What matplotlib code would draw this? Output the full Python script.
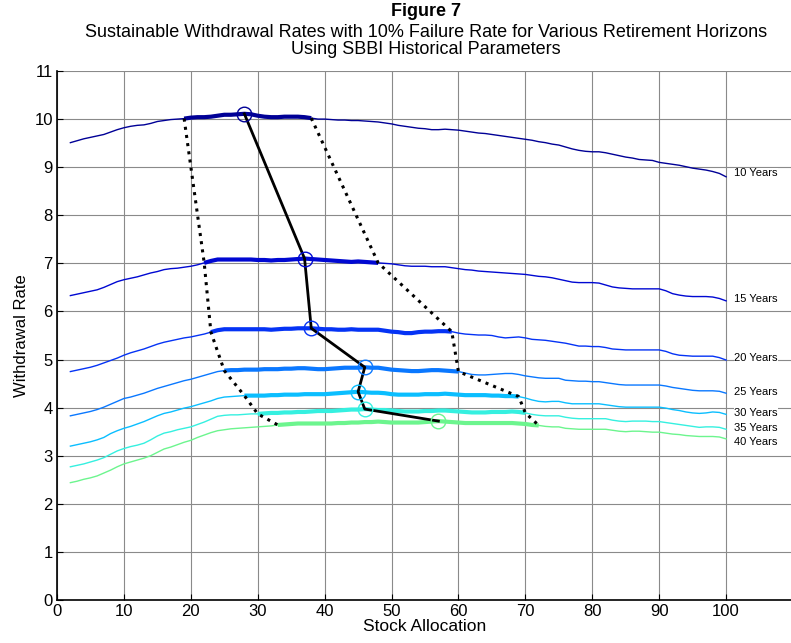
import numpy as np
import matplotlib
matplotlib.use("Agg")
import matplotlib.pyplot as plt

plt.rcParams['font.family'] = ['Liberation Sans', 'DejaVu Sans']

# ---------------- data ----------------
stock_alloc = list(range(2, 101))  # percent stocks

horizons = ["10 Years", "15 Years", "20 Years", "25 Years", "30 Years", "35 Years", "40 Years"]

wr_10 = [9.51, 9.55, 9.59, 9.62, 9.65, 9.68, 9.73, 9.78, 9.82, 9.85,
         9.87, 9.88, 9.91, 9.95, 9.97, 9.99, 10.00, 10.01, 10.03, 10.04,
         10.04, 10.05, 10.07, 10.09, 10.09, 10.10, 10.11, 10.10, 10.07, 10.05,
         10.04, 10.04, 10.05, 10.05, 10.05, 10.04, 10.02, 10.00, 10.00, 9.99,
         9.98, 9.98, 9.97, 9.97, 9.96, 9.95, 9.94, 9.92, 9.90, 9.87,
         9.85, 9.83, 9.81, 9.80, 9.78, 9.78, 9.79, 9.78, 9.77, 9.75,
         9.73, 9.71, 9.70, 9.68, 9.66, 9.64, 9.62, 9.60, 9.58, 9.56,
         9.53, 9.51, 9.48, 9.46, 9.42, 9.38, 9.35, 9.33, 9.32, 9.32,
         9.30, 9.27, 9.24, 9.21, 9.19, 9.16, 9.15, 9.14, 9.10, 9.08,
         9.06, 9.04, 9.01, 8.98, 8.96, 8.94, 8.91, 8.87, 8.80]

wr_15 = [6.33, 6.36, 6.39, 6.42, 6.45, 6.50, 6.56, 6.62, 6.66, 6.69,
         6.72, 6.76, 6.80, 6.83, 6.87, 6.89, 6.90, 6.92, 6.94, 6.97,
         7.01, 7.05, 7.08, 7.08, 7.08, 7.08, 7.08, 7.08, 7.07, 7.07,
         7.06, 7.07, 7.07, 7.08, 7.09, 7.10, 7.09, 7.08, 7.07, 7.06,
         7.05, 7.04, 7.03, 7.04, 7.03, 7.02, 7.01, 7.00, 6.99, 6.97,
         6.95, 6.94, 6.94, 6.94, 6.93, 6.93, 6.93, 6.91, 6.89, 6.87,
         6.86, 6.84, 6.83, 6.82, 6.81, 6.80, 6.79, 6.78, 6.77, 6.75,
         6.73, 6.72, 6.70, 6.67, 6.64, 6.61, 6.60, 6.60, 6.60, 6.59,
         6.55, 6.51, 6.49, 6.48, 6.47, 6.47, 6.47, 6.47, 6.47, 6.43,
         6.37, 6.34, 6.32, 6.31, 6.31, 6.31, 6.30, 6.27, 6.22]

wr_20 = [4.75, 4.78, 4.81, 4.84, 4.88, 4.93, 4.98, 5.03, 5.09, 5.14,
         5.18, 5.22, 5.27, 5.32, 5.36, 5.39, 5.42, 5.45, 5.47, 5.50,
         5.53, 5.57, 5.61, 5.63, 5.63, 5.63, 5.63, 5.63, 5.63, 5.63,
         5.62, 5.63, 5.64, 5.64, 5.65, 5.65, 5.65, 5.64, 5.63, 5.63,
         5.62, 5.62, 5.63, 5.62, 5.62, 5.62, 5.62, 5.60, 5.58, 5.57,
         5.55, 5.55, 5.57, 5.58, 5.58, 5.59, 5.59, 5.58, 5.55, 5.53,
         5.52, 5.51, 5.51, 5.50, 5.47, 5.45, 5.46, 5.47, 5.45, 5.42,
         5.41, 5.40, 5.38, 5.36, 5.34, 5.31, 5.28, 5.28, 5.27, 5.27,
         5.25, 5.22, 5.21, 5.20, 5.20, 5.20, 5.20, 5.20, 5.20, 5.17,
         5.12, 5.09, 5.08, 5.07, 5.07, 5.07, 5.07, 5.04, 4.99]

wr_25 = [3.83, 3.86, 3.89, 3.92, 3.96, 4.01, 4.07, 4.13, 4.19, 4.22,
         4.26, 4.30, 4.35, 4.40, 4.44, 4.48, 4.52, 4.56, 4.59, 4.63,
         4.67, 4.71, 4.75, 4.77, 4.78, 4.78, 4.79, 4.79, 4.79, 4.80,
         4.80, 4.80, 4.81, 4.81, 4.82, 4.82, 4.81, 4.80, 4.80, 4.81,
         4.82, 4.83, 4.83, 4.83, 4.84, 4.83, 4.83, 4.81, 4.79, 4.78,
         4.77, 4.76, 4.76, 4.77, 4.78, 4.78, 4.77, 4.76, 4.75, 4.72,
         4.69, 4.68, 4.68, 4.69, 4.70, 4.71, 4.71, 4.69, 4.66, 4.64,
         4.62, 4.61, 4.61, 4.61, 4.57, 4.56, 4.55, 4.55, 4.54, 4.54,
         4.52, 4.50, 4.48, 4.47, 4.47, 4.47, 4.47, 4.47, 4.47, 4.45,
         4.42, 4.40, 4.38, 4.36, 4.35, 4.35, 4.35, 4.34, 4.30]

wr_30 = [3.20, 3.23, 3.26, 3.29, 3.33, 3.38, 3.46, 3.52, 3.57, 3.61,
         3.66, 3.71, 3.77, 3.83, 3.88, 3.91, 3.95, 3.99, 4.02, 4.06,
         4.10, 4.14, 4.19, 4.22, 4.23, 4.24, 4.25, 4.25, 4.25, 4.25,
         4.26, 4.26, 4.27, 4.27, 4.27, 4.28, 4.28, 4.28, 4.28, 4.29,
         4.30, 4.31, 4.32, 4.33, 4.32, 4.31, 4.31, 4.30, 4.28, 4.27,
         4.27, 4.27, 4.27, 4.28, 4.28, 4.28, 4.29, 4.28, 4.27, 4.26,
         4.26, 4.26, 4.26, 4.25, 4.25, 4.24, 4.24, 4.23, 4.20, 4.16,
         4.13, 4.12, 4.13, 4.13, 4.10, 4.08, 4.08, 4.08, 4.08, 4.08,
         4.06, 4.04, 4.02, 4.01, 4.01, 4.01, 4.01, 4.01, 4.01, 3.99,
         3.96, 3.94, 3.91, 3.89, 3.88, 3.89, 3.91, 3.90, 3.86]

wr_35 = [2.77, 2.80, 2.83, 2.87, 2.91, 2.96, 3.03, 3.10, 3.15, 3.19,
         3.22, 3.26, 3.33, 3.41, 3.47, 3.50, 3.54, 3.57, 3.60, 3.65,
         3.70, 3.76, 3.82, 3.84, 3.85, 3.85, 3.86, 3.87, 3.87, 3.88,
         3.89, 3.89, 3.90, 3.90, 3.91, 3.91, 3.92, 3.93, 3.93, 3.93,
         3.94, 3.95, 3.96, 3.96, 3.97, 3.96, 3.95, 3.95, 3.94, 3.93,
         3.92, 3.92, 3.92, 3.93, 3.93, 3.94, 3.94, 3.93, 3.92, 3.91,
         3.90, 3.90, 3.90, 3.91, 3.91, 3.91, 3.92, 3.91, 3.89, 3.86,
         3.84, 3.83, 3.83, 3.83, 3.80, 3.78, 3.77, 3.77, 3.77, 3.77,
         3.77, 3.74, 3.72, 3.71, 3.72, 3.72, 3.72, 3.71, 3.71, 3.69,
         3.67, 3.65, 3.63, 3.61, 3.59, 3.60, 3.60, 3.59, 3.55]

wr_40 = [2.44, 2.47, 2.51, 2.54, 2.58, 2.64, 2.70, 2.77, 2.83, 2.87,
         2.91, 2.95, 3.00, 3.07, 3.14, 3.18, 3.23, 3.28, 3.32, 3.38,
         3.43, 3.48, 3.52, 3.54, 3.56, 3.57, 3.58, 3.59, 3.60, 3.61,
         3.62, 3.64, 3.65, 3.66, 3.67, 3.67, 3.67, 3.67, 3.67, 3.67,
         3.68, 3.68, 3.69, 3.69, 3.70, 3.70, 3.71, 3.70, 3.69, 3.69,
         3.69, 3.69, 3.69, 3.70, 3.71, 3.72, 3.71, 3.70, 3.69, 3.68,
         3.68, 3.68, 3.68, 3.68, 3.68, 3.68, 3.68, 3.67, 3.66, 3.64,
         3.63, 3.61, 3.60, 3.60, 3.57, 3.56, 3.55, 3.55, 3.55, 3.55,
         3.55, 3.53, 3.51, 3.50, 3.51, 3.51, 3.50, 3.49, 3.49, 3.47,
         3.45, 3.44, 3.42, 3.41, 3.40, 3.40, 3.40, 3.39, 3.35]

# allocation range (within 10% failure tolerance) and the optimal allocation
range_low = [19, 22, 23, 25, 28, 30, 33]
range_high = [38, 48, 59, 60, 69, 70, 72]
best_alloc = [28, 37, 38, 46, 45, 46, 57]

xticks = list(range(0, 101, 10))
yticks = list(range(0, 12))

# ---------------- styling / layout ----------------
colors = ['#000096', '#0008D2', '#0533F5', '#0A78FF', '#0ABEFF', '#35F0E0', '#6CF58E']
label_dy = [0.07, 0.04, 0.04, 0.02, 0.03, 0.03, -0.07]

series = [wr_10, wr_15, wr_20, wr_25, wr_30, wr_35, wr_40]

W, H = 791, 643
fig = plt.figure(figsize=(W / 100, H / 100), dpi=100)
ax_left, ax_bottom, ax_top = 57, 600, 71
ax = fig.add_axes([ax_left / W, 1 - ax_bottom / H, 736 / W, (ax_bottom - ax_top) / H])
ax.set_xlim(0, 110)
ax.set_ylim(0, 11)

x = np.array(stock_alloc)
lo_pts, hi_pts, best_pts = [], [], []
for vals, c, lo, hi, best, name, dy in zip(series, colors, range_low, range_high,
                                           best_alloc, horizons, label_dy):
    v = np.array(vals)
    ax.plot(x, v, color=c, lw=1.0, zorder=3)
    m = (x >= lo) & (x <= hi)
    ax.plot(x[m], v[m], color=c, lw=3.0, solid_capstyle='butt', zorder=4)
    lo_pts.append((lo, v[x == lo][0]))
    hi_pts.append((hi, v[x == hi][0]))
    bv = v[x == best][0]
    best_pts.append((best, bv))
    ax.text(101.2, v[-1] + dy, name, fontsize=8, va='center', ha='left', zorder=6,
            bbox=dict(facecolor='white', edgecolor='none', pad=0.3))

lx, ly = zip(*lo_pts)
hx, hy = zip(*hi_pts)
bx, by = zip(*best_pts)
ax.plot(lx, ly, color='black', lw=2.2, ls=(0, (1, 1.7)), zorder=5)
ax.plot(hx, hy, color='black', lw=2.2, ls=(0, (1, 1.7)), zorder=5)
ax.plot(bx, by, color='black', lw=2.0, zorder=6)
for (px, py), c in zip(best_pts, colors):
    ax.plot([px], [py], marker='o', ms=10.5, mfc='none', mec=c, mew=1.0, zorder=7)

ax.set_xticks(xticks)
ax.set_yticks(yticks)
ax.grid(True, color='#8a8a8a', lw=0.8, ls='-')
ax.set_axisbelow(True)
for s in ['top', 'right']:
    ax.spines[s].set_visible(False)
for s in ['left', 'bottom']:
    ax.spines[s].set_linewidth(1.2)
    ax.spines[s].set_zorder(8)
ax.tick_params(direction='in', length=4, width=0.8, labelsize=12, colors='black')
ax.tick_params(axis='x', pad=3)
ax.tick_params(axis='y', pad=3)

ax.set_xlabel('Stock Allocation', fontsize=12.5, labelpad=0)
ax.set_ylabel('Withdrawal Rate', fontsize=12, labelpad=4)

cx = (ax_left + (W - ax_left) / 2 + 2) / W
fig.text(cx, 1 - 16 / H, 'Figure 7', ha='center', va='baseline', fontsize=13, fontweight='bold')
fig.text(cx, 1 - 37 / H, 'Sustainable Withdrawal Rates with 10% Failure Rate for Various Retirement Horizons',
         ha='center', va='baseline', fontsize=13)
fig.text(cx, 1 - 54 / H, 'Using SBBI Historical Parameters', ha='center', va='baseline', fontsize=13)

fig.savefig('out.png', dpi=100)
